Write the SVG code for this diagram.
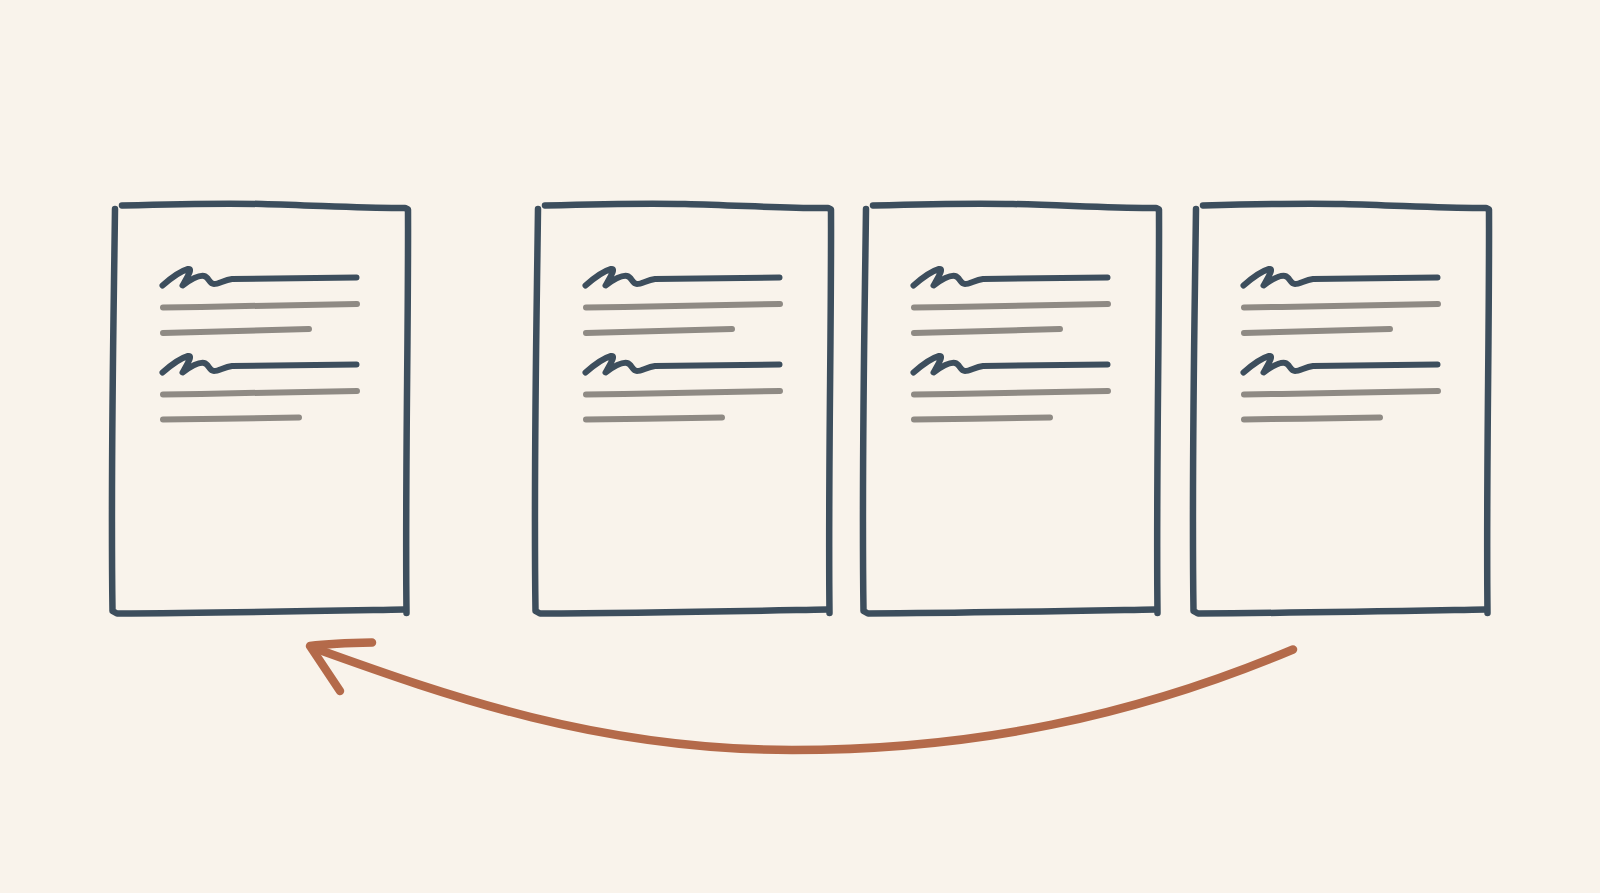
<svg xmlns="http://www.w3.org/2000/svg" xmlns:xlink="http://www.w3.org/1999/xlink" width="1600" height="893" viewBox="0 0 1600 893">
  <style>
    .frame { fill: none; stroke: #3d4e5d; stroke-width: 6.5; stroke-linecap: round; stroke-linejoin: round; }
    .head { fill: none; stroke: #3d4e5d; stroke-width: 6; stroke-linecap: round; stroke-linejoin: round; }
    .body { fill: none; stroke: #8f8a84; stroke-width: 6; stroke-linecap: round; }
    .conn { fill: none; stroke: #b46a4a; stroke-width: 8.5; stroke-linecap: round; stroke-linejoin: round; }
  </style>
  <defs>
    <g id="page-tpl">
      <path class="frame" d="M115,209 C113.5,330 110.5,470 112.5,611 L117,613.5 C220,613 320,611 404,609.5"/>
      <path class="frame" d="M122,205.5 C175,204 220,203 262,204 C320,205.5 365,208.5 405,208 L408,209.5 C408.5,330 405,480 406.5,613"/>
      <path id="squiggle" class="head" d="M162.5,285.5 C171,278 181,271 188,269 C193,268 188,276 182.5,285.5 C190,280 199,275 204,276 C209,277 209,284 214,284 C219,284 224,280 232,279 C280,278.5 320,278 356.5,277.5"/>
      <path class="body" d="M163,307.5 C230,306.5 300,305 357,304"/>
      <path class="body" d="M163,333 C210,332 260,330.5 309,329"/>
      <use xlink:href="#squiggle" href="#squiggle" transform="translate(0,87)"/>
      <path class="body" d="M163,394.5 C230,393.5 300,392 357,391"/>
      <path class="body" d="M163,419.5 C210,419 250,418 299,417.5"/>
    </g>
  </defs>
  <rect width="1600" height="893" fill="#f9f3eb"/>
  <g id="page-1"><use xlink:href="#page-tpl" href="#page-tpl"/></g>
  <g id="page-2" transform="translate(423,0)"><use xlink:href="#page-tpl" href="#page-tpl"/></g>
  <g id="page-3" transform="translate(751,0)"><use xlink:href="#page-tpl" href="#page-tpl"/></g>
  <g id="page-4" transform="translate(1081,0)"><use xlink:href="#page-tpl" href="#page-tpl"/></g>
  <g id="connectors">
    <path class="conn" d="M1293,649.5 C1135,716 975,750 792,750 C600,750 450,697 314,648"/>
    <path class="conn" d="M372,642.5 C355,642.8 330,643.5 310,646 L340,691"/>
  </g>
</svg>
